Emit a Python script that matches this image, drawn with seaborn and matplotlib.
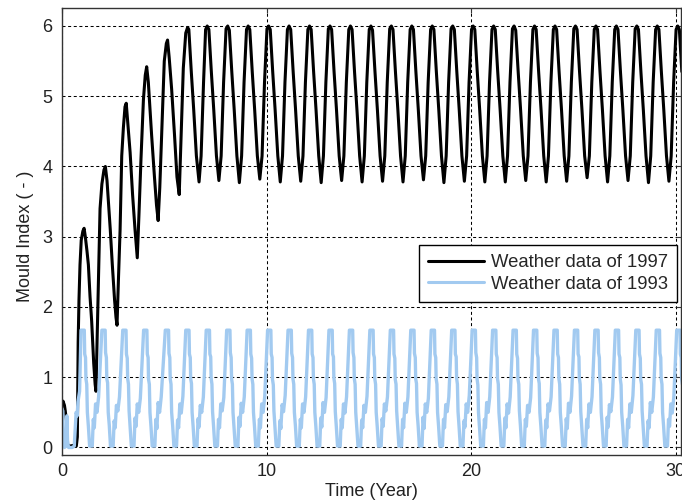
import matplotlib
matplotlib.use("Agg")
import matplotlib.pyplot as plt
import seaborn as sns
import pandas as pd

# ---------------- data ----------------
black_t = [
    0.00, 0.05, 0.12, 0.16, 0.22, 0.27, 0.40, 0.55, 0.70, 0.75, 0.79, 0.83, 0.88, 0.94,
    1.02, 1.08, 1.14, 1.22, 1.29, 1.37, 1.45, 1.55, 1.62, 1.66, 1.72, 1.79, 1.86, 1.95,
    2.05, 2.12, 2.20, 2.27, 2.36, 2.46, 2.57, 2.64, 2.69, 2.76, 2.84, 2.92,
    3.00, 3.08, 3.14, 3.22, 3.33, 3.45, 3.57, 3.68, 3.76, 3.86, 3.98,
    4.07, 4.14, 4.22, 4.38, 4.52, 4.62, 4.70, 4.78, 4.87, 5.00,
    5.10, 5.16, 5.24, 5.36, 5.50, 5.62, 5.73, 5.82, 5.93,
    6.05, 6.14, 6.20, 6.32, 6.44, 6.57, 6.70, 6.80, 6.92,
    7.02, 7.10, 7.18, 7.30, 7.42, 7.55, 7.67, 7.78, 7.90,
    8.02, 8.10, 8.18, 8.30, 8.42, 8.55, 8.67, 8.78, 8.90,
    9.02, 9.10, 9.18, 9.30, 9.42, 9.55, 9.67, 9.78, 9.90,
    10.02, 10.10, 10.18, 10.30, 10.42, 10.55, 10.67, 10.78, 10.90,
    11.02, 11.10, 11.18, 11.30, 11.42, 11.55, 11.67, 11.78, 11.90,
    12.02, 12.10, 12.18, 12.30, 12.42, 12.55, 12.67, 12.78, 12.90,
    13.02, 13.10, 13.18, 13.30, 13.42, 13.55, 13.67, 13.78, 13.90,
    14.02, 14.10, 14.18, 14.30, 14.42, 14.55, 14.67, 14.78, 14.90,
    15.02, 15.10, 15.18, 15.30, 15.42, 15.55, 15.67, 15.78, 15.90,
    16.02, 16.10, 16.18, 16.30, 16.42, 16.55, 16.67, 16.78, 16.90,
    17.02, 17.10, 17.18, 17.30, 17.42, 17.55, 17.67, 17.78, 17.90,
    18.02, 18.10, 18.18, 18.30, 18.42, 18.55, 18.67, 18.78, 18.90,
    19.02, 19.10, 19.18, 19.30, 19.42, 19.55, 19.67, 19.78, 19.90,
    20.02, 20.10, 20.18, 20.30, 20.42, 20.55, 20.67, 20.78, 20.90,
    21.02, 21.10, 21.18, 21.30, 21.42, 21.55, 21.67, 21.78, 21.90,
    22.02, 22.10, 22.18, 22.30, 22.42, 22.55, 22.67, 22.78, 22.90,
    23.02, 23.10, 23.18, 23.30, 23.42, 23.55, 23.67, 23.78, 23.90,
    24.02, 24.10, 24.18, 24.30, 24.42, 24.55, 24.67, 24.78, 24.90,
    25.02, 25.10, 25.18, 25.30, 25.42, 25.55, 25.67, 25.78, 25.90,
    26.02, 26.10, 26.18, 26.30, 26.42, 26.55, 26.67, 26.78, 26.90,
    27.02, 27.10, 27.18, 27.30, 27.42, 27.55, 27.67, 27.78, 27.90,
    28.02, 28.10, 28.18, 28.30, 28.42, 28.55, 28.67, 28.78, 28.90,
    29.02, 29.10, 29.18, 29.30, 29.42, 29.55, 29.67, 29.78, 29.90,
    30.02, 30.10, 30.18, 30.30,
]
black_v = [
    0.62, 0.66, 0.60, 0.52, 0.38, 0.04, 0.02, 0.03, 0.02, 0.15, 1.50, 2.10, 2.60, 2.95,
    3.08, 3.12, 3.00, 2.80, 2.60, 2.15, 1.80, 1.20, 0.90, 0.80, 1.60, 2.60, 3.40, 3.75,
    3.95, 4.00, 3.80, 3.50, 3.10, 2.60, 2.10, 1.85, 1.74, 2.40, 3.10, 4.15,
    4.55, 4.85, 4.90, 4.60, 4.20, 3.60, 3.10, 2.70, 3.30, 4.10, 4.95,
    5.30, 5.42, 5.20, 4.45, 3.85, 3.45, 3.23, 3.70, 4.45, 5.50,
    5.75, 5.80, 5.55, 5.10, 4.45, 3.85, 3.60, 4.40, 5.40,
    5.90, 5.98, 5.95, 5.35, 4.80, 4.15, 3.78, 4.15, 5.20,
    5.95, 6.00, 5.95, 5.35, 4.80, 4.15, 3.80, 4.15, 5.20,
    5.96, 6.00, 5.94, 5.35, 4.80, 4.15, 3.77, 4.15, 5.20,
    5.95, 6.00, 5.95, 5.35, 4.80, 4.15, 3.82, 4.15, 5.20,
    5.96, 6.00, 5.95, 5.35, 4.80, 4.15, 3.78, 4.15, 5.20,
    5.95, 6.00, 5.95, 5.35, 4.80, 4.15, 3.79, 4.15, 5.20,
    5.95, 6.00, 5.95, 5.35, 4.80, 4.15, 3.77, 4.15, 5.20,
    5.96, 6.00, 5.95, 5.35, 4.80, 4.15, 3.80, 4.15, 5.20,
    5.95, 6.00, 5.95, 5.35, 4.80, 4.15, 3.78, 4.15, 5.20,
    5.95, 6.00, 5.94, 5.35, 4.80, 4.15, 3.79, 4.15, 5.20,
    5.96, 6.00, 5.95, 5.35, 4.80, 4.15, 3.78, 4.15, 5.20,
    5.95, 6.00, 5.95, 5.35, 4.80, 4.15, 3.81, 4.15, 5.20,
    5.95, 6.00, 5.95, 5.35, 4.80, 4.15, 3.77, 4.15, 5.20,
    5.96, 6.00, 5.95, 5.35, 4.80, 4.15, 3.79, 4.15, 5.20,
    5.95, 6.00, 5.95, 5.35, 4.80, 4.15, 3.78, 4.15, 5.20,
    5.95, 6.00, 5.95, 5.35, 4.80, 4.15, 3.78, 4.15, 5.20,
    5.96, 6.00, 5.94, 5.35, 4.80, 4.15, 3.80, 4.15, 5.20,
    5.95, 6.00, 5.95, 5.35, 4.80, 4.15, 3.78, 4.15, 5.20,
    5.95, 6.00, 5.95, 5.35, 4.80, 4.15, 3.79, 4.15, 5.20,
    5.96, 6.00, 5.95, 5.35, 4.80, 4.15, 3.84, 4.15, 5.20,
    5.95, 6.00, 5.95, 5.35, 4.80, 4.15, 3.78, 4.15, 5.20,
    5.95, 6.00, 5.95, 5.35, 4.80, 4.15, 3.80, 4.15, 5.20,
    5.96, 6.00, 5.95, 5.35, 4.80, 4.15, 3.77, 4.15, 5.20,
    5.95, 6.00, 5.95, 5.35, 4.80, 4.15, 3.79, 4.15, 5.20,
    5.95, 6.00, 5.95, 5.35,
]

blue_t = [
    0.00, 0.04, 0.07, 0.12, 0.20, 0.24, 0.27, 0.32, 0.50, 0.60, 0.65, 0.69, 0.74, 0.78, 0.86,
    0.93, 1.09, 1.11, 1.15, 1.17, 1.21, 1.24, 1.29, 1.35, 1.48, 1.53, 1.58, 1.64, 1.71, 1.79,
    1.95, 2.11, 2.13, 2.17, 2.19, 2.23, 2.26, 2.31, 2.37, 2.50, 2.55, 2.60, 2.66, 2.73, 2.81,
    2.97, 3.13, 3.15, 3.19, 3.21, 3.25, 3.28, 3.33, 3.39, 3.52, 3.57, 3.62, 3.68, 3.75, 3.83,
    3.99, 4.15, 4.17, 4.21, 4.23, 4.27, 4.30, 4.35, 4.41, 4.54, 4.59, 4.64, 4.70, 4.77, 4.85,
    5.05, 5.21, 5.23, 5.27, 5.29, 5.33, 5.36, 5.41, 5.47, 5.60, 5.65, 5.70, 5.76, 5.83, 5.91,
    6.05, 6.21, 6.23, 6.27, 6.29, 6.33, 6.36, 6.41, 6.47, 6.60, 6.65, 6.70, 6.76, 6.83, 6.91,
    7.05, 7.21, 7.23, 7.27, 7.29, 7.33, 7.36, 7.41, 7.47, 7.60, 7.65, 7.70, 7.76, 7.83, 7.91,
    8.05, 8.21, 8.23, 8.27, 8.29, 8.33, 8.36, 8.41, 8.47, 8.60, 8.65, 8.70, 8.76, 8.83, 8.91,
    9.05, 9.21, 9.23, 9.27, 9.29, 9.33, 9.36, 9.41, 9.47, 9.60, 9.65, 9.70, 9.76, 9.83, 9.91,
    10.05, 10.21, 10.23, 10.27, 10.29, 10.33, 10.36, 10.41, 10.47, 10.60, 10.65, 10.70, 10.76, 10.83, 10.91,
    11.05, 11.21, 11.23, 11.27, 11.29, 11.33, 11.36, 11.41, 11.47, 11.60, 11.65, 11.70, 11.76, 11.83, 11.91,
    12.05, 12.21, 12.23, 12.27, 12.29, 12.33, 12.36, 12.41, 12.47, 12.60, 12.65, 12.70, 12.76, 12.83, 12.91,
    13.05, 13.21, 13.23, 13.27, 13.29, 13.33, 13.36, 13.41, 13.47, 13.60, 13.65, 13.70, 13.76, 13.83, 13.91,
    14.05, 14.21, 14.23, 14.27, 14.29, 14.33, 14.36, 14.41, 14.47, 14.60, 14.65, 14.70, 14.76, 14.83, 14.91,
    15.05, 15.21, 15.23, 15.27, 15.29, 15.33, 15.36, 15.41, 15.47, 15.60, 15.65, 15.70, 15.76, 15.83, 15.91,
    16.05, 16.21, 16.23, 16.27, 16.29, 16.33, 16.36, 16.41, 16.47, 16.60, 16.65, 16.70, 16.76, 16.83, 16.91,
    17.05, 17.21, 17.23, 17.27, 17.29, 17.33, 17.36, 17.41, 17.47, 17.60, 17.65, 17.70, 17.76, 17.83, 17.91,
    18.05, 18.21, 18.23, 18.27, 18.29, 18.33, 18.36, 18.41, 18.47, 18.60, 18.65, 18.70, 18.76, 18.83, 18.91,
    19.05, 19.21, 19.23, 19.27, 19.29, 19.33, 19.36, 19.41, 19.47, 19.60, 19.65, 19.70, 19.76, 19.83, 19.91,
    20.05, 20.21, 20.23, 20.27, 20.29, 20.33, 20.36, 20.41, 20.47, 20.60, 20.65, 20.70, 20.76, 20.83, 20.91,
    21.05, 21.21, 21.23, 21.27, 21.29, 21.33, 21.36, 21.41, 21.47, 21.60, 21.65, 21.70, 21.76, 21.83, 21.91,
    22.05, 22.21, 22.23, 22.27, 22.29, 22.33, 22.36, 22.41, 22.47, 22.60, 22.65, 22.70, 22.76, 22.83, 22.91,
    23.05, 23.21, 23.23, 23.27, 23.29, 23.33, 23.36, 23.41, 23.47, 23.60, 23.65, 23.70, 23.76, 23.83, 23.91,
    24.05, 24.21, 24.23, 24.27, 24.29, 24.33, 24.36, 24.41, 24.47, 24.60, 24.65, 24.70, 24.76, 24.83, 24.91,
    25.05, 25.21, 25.23, 25.27, 25.29, 25.33, 25.36, 25.41, 25.47, 25.60, 25.65, 25.70, 25.76, 25.83, 25.91,
    26.05, 26.21, 26.23, 26.27, 26.29, 26.33, 26.36, 26.41, 26.47, 26.60, 26.65, 26.70, 26.76, 26.83, 26.91,
    27.05, 27.21, 27.23, 27.27, 27.29, 27.33, 27.36, 27.41, 27.47, 27.60, 27.65, 27.70, 27.76, 27.83, 27.91,
    28.05, 28.21, 28.23, 28.27, 28.29, 28.33, 28.36, 28.41, 28.47, 28.60, 28.65, 28.70, 28.76, 28.83, 28.91,
    29.05, 29.21, 29.23, 29.27, 29.29, 29.33, 29.36, 29.41, 29.47, 29.60, 29.65, 29.70, 29.76, 29.83, 29.91,
    30.05, 30.21, 30.23, 30.27, 30.29, 30.33,
]
blue_v = [
    0.55, 0.52, 0.10, 0.00, 0.02, 0.45, 0.10, 0.00, 0.00, 0.02, 0.30, 0.50, 0.45, 0.65, 0.80,
    1.67, 1.67, 1.33, 1.28, 0.98, 0.90, 0.50, 0.30, 0.02, 0.02, 0.40, 0.28, 0.62, 0.50, 0.72,
    1.67, 1.67, 1.35, 1.28, 0.98, 0.92, 0.50, 0.32, 0.02, 0.02, 0.38, 0.28, 0.60, 0.52, 0.72,
    1.67, 1.67, 1.33, 1.27, 0.98, 0.90, 0.52, 0.30, 0.02, 0.02, 0.42, 0.30, 0.62, 0.50, 0.70,
    1.67, 1.67, 1.33, 1.28, 0.97, 0.90, 0.50, 0.30, 0.02, 0.02, 0.40, 0.27, 0.64, 0.50, 0.72,
    1.67, 1.67, 1.34, 1.28, 0.98, 0.90, 0.50, 0.31, 0.02, 0.02, 0.39, 0.28, 0.62, 0.49, 0.73,
    1.67, 1.67, 1.33, 1.28, 0.98, 0.91, 0.50, 0.30, 0.02, 0.02, 0.41, 0.29, 0.60, 0.50, 0.72,
    1.67, 1.67, 1.33, 1.29, 0.99, 0.90, 0.51, 0.30, 0.02, 0.02, 0.40, 0.28, 0.62, 0.52, 0.71,
    1.67, 1.67, 1.35, 1.28, 0.98, 0.90, 0.50, 0.29, 0.02, 0.02, 0.43, 0.30, 0.63, 0.50, 0.72,
    1.67, 1.67, 1.33, 1.27, 0.98, 0.90, 0.50, 0.30, 0.02, 0.02, 0.40, 0.28, 0.62, 0.50, 0.72,
    1.67, 1.67, 1.33, 1.28, 0.97, 0.89, 0.52, 0.30, 0.02, 0.02, 0.38, 0.27, 0.61, 0.51, 0.74,
    1.67, 1.67, 1.34, 1.28, 0.98, 0.90, 0.50, 0.31, 0.02, 0.02, 0.40, 0.28, 0.62, 0.50, 0.72,
    1.67, 1.67, 1.33, 1.28, 0.98, 0.90, 0.50, 0.30, 0.02, 0.02, 0.42, 0.29, 0.64, 0.50, 0.71,
    1.67, 1.67, 1.33, 1.29, 0.99, 0.91, 0.51, 0.30, 0.02, 0.02, 0.40, 0.28, 0.62, 0.49, 0.72,
    1.67, 1.67, 1.35, 1.28, 0.98, 0.90, 0.50, 0.29, 0.02, 0.02, 0.39, 0.28, 0.60, 0.50, 0.73,
    1.67, 1.67, 1.33, 1.28, 0.98, 0.90, 0.50, 0.30, 0.02, 0.02, 0.41, 0.30, 0.62, 0.52, 0.72,
    1.67, 1.67, 1.33, 1.27, 0.97, 0.90, 0.52, 0.30, 0.02, 0.02, 0.40, 0.28, 0.63, 0.50, 0.72,
    1.67, 1.67, 1.34, 1.28, 0.98, 0.91, 0.50, 0.31, 0.02, 0.02, 0.43, 0.27, 0.62, 0.50, 0.70,
    1.67, 1.67, 1.33, 1.28, 0.98, 0.90, 0.50, 0.30, 0.02, 0.02, 0.40, 0.28, 0.61, 0.51, 0.72,
    1.67, 1.67, 1.33, 1.29, 0.99, 0.90, 0.51, 0.30, 0.02, 0.02, 0.38, 0.29, 0.62, 0.50, 0.74,
    1.67, 1.67, 1.35, 1.28, 0.98, 0.89, 0.50, 0.29, 0.02, 0.02, 0.40, 0.28, 0.64, 0.50, 0.72,
    1.67, 1.67, 1.33, 1.28, 0.98, 0.90, 0.50, 0.30, 0.02, 0.02, 0.42, 0.28, 0.62, 0.49, 0.72,
    1.67, 1.67, 1.33, 1.27, 0.97, 0.90, 0.52, 0.31, 0.02, 0.02, 0.40, 0.30, 0.60, 0.50, 0.71,
    1.67, 1.67, 1.34, 1.28, 0.98, 0.91, 0.50, 0.30, 0.02, 0.02, 0.39, 0.28, 0.62, 0.52, 0.72,
    1.67, 1.67, 1.33, 1.28, 0.98, 0.90, 0.50, 0.30, 0.02, 0.02, 0.41, 0.27, 0.63, 0.50, 0.73,
    1.67, 1.67, 1.33, 1.29, 0.99, 0.90, 0.51, 0.29, 0.02, 0.02, 0.40, 0.28, 0.62, 0.50, 0.72,
    1.67, 1.67, 1.35, 1.28, 0.98, 0.90, 0.50, 0.30, 0.02, 0.02, 0.43, 0.29, 0.61, 0.51, 0.72,
    1.67, 1.67, 1.33, 1.28, 0.98, 0.89, 0.50, 0.31, 0.02, 0.02, 0.40, 0.28, 0.62, 0.50, 0.74,
    1.67, 1.67, 1.33, 1.27, 0.97, 0.90, 0.52, 0.30, 0.02, 0.02, 0.38, 0.28, 0.64, 0.50, 0.72,
    1.67, 1.67, 1.34, 1.28, 0.98, 0.90, 0.50, 0.30, 0.02, 0.02, 0.40, 0.30, 0.62, 0.49, 0.72,
    1.67, 1.67, 1.33, 1.28, 0.98, 0.90,
]

series_labels = ["Weather data of 1997", "Weather data of 1993"]
x_ticks = [0, 10, 20, 30]
y_ticks = [0, 1, 2, 3, 4, 5, 6]
x_label = "Time (Year)"
y_label = "Mould Index ( - )"

# ---------------- styling ----------------
sns.set_style("white")
plt.rcParams["font.family"] = ["Liberation Sans", "DejaVu Sans"]
plt.rcParams["font.size"] = 13

fig = plt.figure(figsize=(6.82, 5.04), dpi=100)
ax = fig.add_axes([62 / 682, 1 - 455 / 504, 619 / 682, 447 / 504])

df_black = pd.DataFrame({"t": black_t, "v": black_v})
df_blue = pd.DataFrame({"t": blue_t, "v": blue_v})

sns.lineplot(data=df_black, x="t", y="v", sort=False, estimator=None,
             color="black", linewidth=2.2, ax=ax, label=series_labels[0])
sns.lineplot(data=df_blue, x="t", y="v", sort=False, estimator=None,
             color="#a2caf0", linewidth=2.4, ax=ax, label=series_labels[1])

ax.set_xlim(0, 30.26)
ax.set_ylim(-0.107, 6.256)
ax.set_xticks(x_ticks)
ax.set_yticks(y_ticks)

ax.grid(True, color="black", linestyle=(0, (2.9, 2.5)), linewidth=0.75)
ax.set_axisbelow(True)

for s in ax.spines.values():
    s.set_visible(True)
    s.set_color("#333333")
    s.set_linewidth(1.0)

ax.tick_params(axis="both", which="both", direction="in", length=3.5, width=0.8,
               top=True, right=True, labelsize=13, colors="#333333",
               labelcolor="#222222")
ax.tick_params(axis="x", pad=6)
ax.tick_params(axis="y", pad=7)

ax.set_xlabel(x_label, fontsize=13, color="#222222")
ax.set_ylabel(y_label, fontsize=13, color="#222222")
ax.xaxis.set_label_coords(0.5, -0.062)
ax.yaxis.set_label_coords(-0.045, 0.49)

leg = ax.legend(loc="upper right", bbox_to_anchor=(0.9935, 0.470),
                borderaxespad=0, fontsize=13.3, frameon=True, fancybox=False,
                framealpha=1, edgecolor="black", handlelength=3.0,
                handletextpad=0.38, borderpad=0.5, labelspacing=0.25)
leg.get_frame().set_linewidth(1.0)
for line in leg.get_lines():
    line.set_linewidth(2.2)

fig.savefig("out.png", dpi=100, facecolor="white")
